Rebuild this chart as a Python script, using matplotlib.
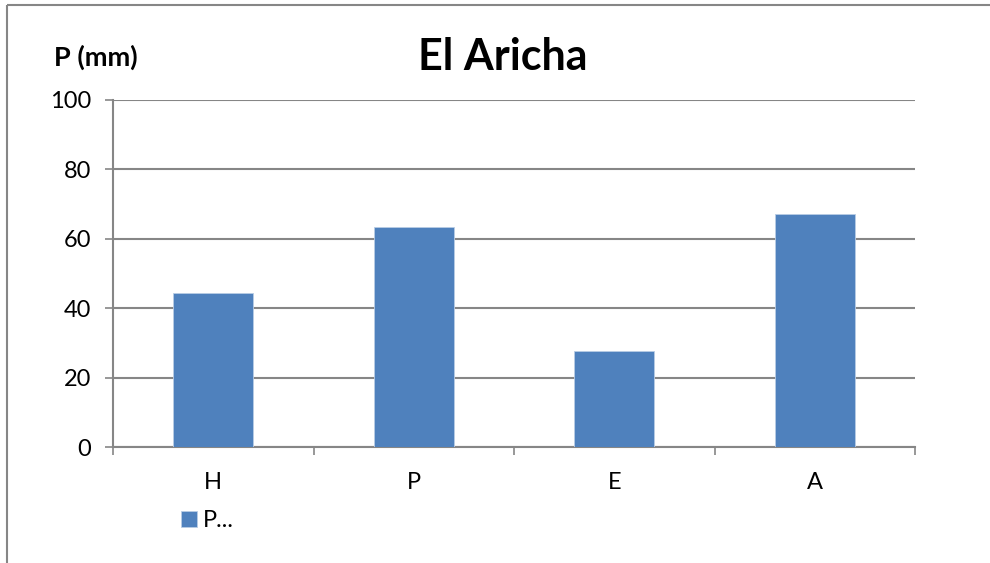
import matplotlib.pyplot as plt
from matplotlib.lines import Line2D

# seasons and rainfall (mm) for El Aricha
seasons = ["H", "P", "E", "A"]
rain = [44.4, 63.4, 27.6, 67.2]

plt.rcParams['font.family'] = ['Lato', 'DejaVu Sans']

fig = plt.figure(figsize=(9.9, 5.63), dpi=100, facecolor='white')
ax = fig.add_axes([113/990, 1 - 447/563, (915-113)/990, (447-100)/563])

grey = '#868686'
bars = ax.bar(range(len(seasons)), rain, width=0.4, color='#4f81bd',
              edgecolor='#b9cde5', linewidth=0.6, zorder=3, label='P...')

ax.set_xlim(-0.5, len(seasons) - 0.5)
ax.set_ylim(0, 100)
ax.set_yticks(range(0, 101, 20))
ax.set_xticks(range(len(seasons)))
ax.set_xticklabels(seasons)
ax.set_xticks([i - 0.5 for i in range(len(seasons) + 1)], minor=True)
ax.tick_params(axis='x', which='major', length=0, pad=18, labelsize=17)
ax.tick_params(axis='x', which='minor', length=6, color=grey, width=1.2)
ax.tick_params(axis='y', length=6, color=grey, width=1.2, labelsize=17, pad=10)
ax.yaxis.grid(True, color=grey, linewidth=1.5, zorder=0)

for s in ['top', 'right']:
    ax.spines[s].set_visible(False)
for s in ['left', 'bottom']:
    ax.spines[s].set_color(grey)
    ax.spines[s].set_linewidth(1.5)

fig.text(503/990, 1 - 57/563, "El Aricha", ha='center', va='center',
         fontsize=31, fontweight='bold')
fig.text(54/990, 1 - 57/563, "P (mm)", ha='left', va='center',
         fontsize=19.5, fontweight='bold')

# outer chart border: only the top and left edges fall inside the picture
fig.lines.append(Line2D([7/990, 1.0], [1 - 5/563, 1 - 5/563],
                        transform=fig.transFigure, color=grey, linewidth=1.5,
                        solid_capstyle='butt'))
fig.lines.append(Line2D([7/990, 7/990], [0, 1 - 5/563],
                        transform=fig.transFigure, color=grey, linewidth=1.5,
                        solid_capstyle='butt'))

fig.legend(loc='upper left', bbox_to_anchor=(172/990, 1 - 501/563),
           frameon=False, fontsize=17, handlelength=0.65, handleheight=0.65,
           handletextpad=0.25, borderaxespad=0)

plt.savefig('out.png', dpi=100)
